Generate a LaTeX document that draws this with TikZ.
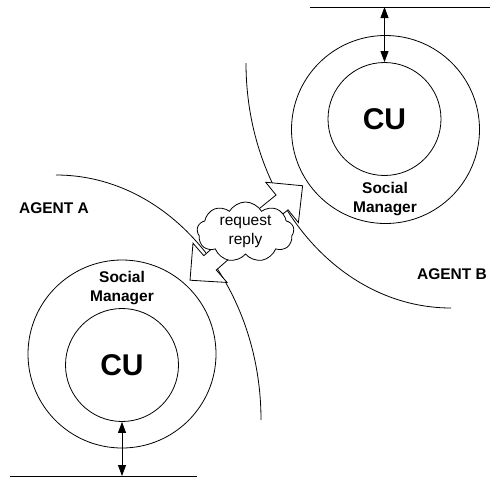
\documentclass[tikz,border=0pt]{standalone}
\usepackage{fontspec}
\setmainfont{Liberation Sans}
\usetikzlibrary{shapes.symbols,arrows.meta}
\begin{document}
\begin{tikzpicture}[x=1pt,y=-1pt,
  line width=0.8pt,
  lbl/.style={font=\fontsize{15.5}{19}\selectfont\bfseries, align=center, inner sep=0},
  cunit/.style={circle, draw, minimum size=113pt, inner sep=0,
    font=\fontsize{30}{36}\selectfont\bfseries},
  social/.style={circle, draw, minimum size=188pt, inner sep=0},
  link/.style={arrows={Triangle[width=8pt,length=11pt]-Triangle[width=8pt,length=11pt]}},
  block/.style={draw, fill=white, line join=miter},
  bubble/.style={cloud, cloud puffs=9, cloud puff arc=120, cloud ignores aspect,
    draw, fill=white, minimum width=97pt, minimum height=60pt, inner sep=0},
  msg/.style={font=\fontsize{15.5}{19}\selectfont, align=center, inner sep=0}
]
\useasboundingbox (0,0) rectangle (490,480);

% boundaries of the two agents
\draw (56,175) arc[start angle=90, end angle=0, x radius=205pt, y radius=245pt];
\draw (246,63) arc[start angle=180, end angle=270, x radius=205pt, y radius=245pt];

% agent A
\node[social] (smA) at (122,354) {};
\node[cunit] (cuA) at (122,365) {CU};
\node[lbl] (smAtxt) at (122,288) {Social\\Manager};
\node[lbl] (agA) at (54,208) {AGENT A};
\coordinate (gA0) at (10,476);
\coordinate (gA1) at (197,476);
\coordinate (gA) at (122,476);
\draw (gA0) -- (gA1);
\draw[link] (cuA.south) -- (gA);

% agent B
\node[social] (smB) at (385.5,129.5) {};
\node[cunit] (cuB) at (384.5,119) {CU};
\node[lbl] (smBtxt) at (385,199) {Social\\Manager};
\node[lbl] (agB) at (452,274) {AGENT B};
\coordinate (gB0) at (310,7);
\coordinate (gB1) at (490,7);
\coordinate (gB) at (384.5,7);
\draw (gB0) -- (gB1);
\draw[link] (gB) -- (cuB.north);

% message exchange
\coordinate (rr) at (245.5,232);
\foreach \a in {39,221}
  \draw[block, shift={(rr)}, rotate=\a]
    (0,9.5) -- (47,9.5) -- (47,26) -- (73.5,0) -- (47,-26) -- (47,-9.5) -- (0,-9.5) -- cycle;
\node[bubble] (cl) at (rr) {};
\node[msg] (cltxt) at (rr) {request\\reply};
\end{tikzpicture}
\end{document}
